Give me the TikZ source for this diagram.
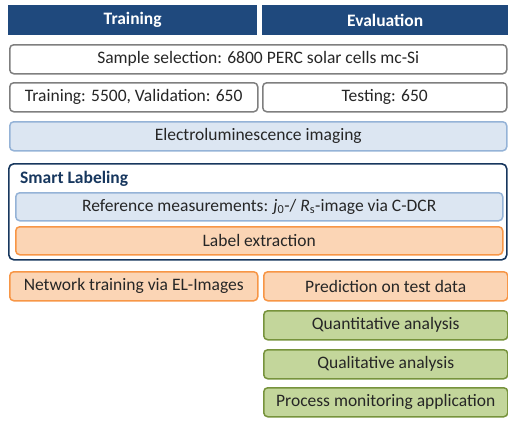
\documentclass[tikz,border=0pt]{standalone}
\usepackage{fontspec}
\setmainfont{Carlito}
\definecolor{hdr}{HTML}{1F497D}
\definecolor{navy}{HTML}{17375E}
\definecolor{grayb}{HTML}{7F7F7F}
\definecolor{bluef}{HTML}{DCE6F2}
\definecolor{blueb}{HTML}{95B3D7}
\definecolor{orf}{HTML}{FBD5B5}
\definecolor{orb}{HTML}{F79646}
\definecolor{grf}{HTML}{C3D69B}
\definecolor{grb}{HTML}{77933C}
\tikzset{
  txt/.style={font=\fontsize{17.5}{20}\selectfont},
  box/.style={rounded corners=4pt, line width=1.5pt, inner sep=0pt, txt, text=black!85},
  hdrbox/.style={fill=hdr, draw=none, text=white, font=\fontsize{17.5}{20}\selectfont\bfseries},
  whitebox/.style={box, draw=grayb, fill=white},
  bluebox/.style={box, draw=blueb, fill=bluef},
  orbox/.style={box, draw=orb, fill=orf},
  grbox/.style={box, draw=grb, fill=grf},
}
\begin{document}
\begin{tikzpicture}[x=1pt,y=1pt]
\useasboundingbox (0,0) rectangle (508,-421);
% headers
\node[hdrbox, minimum width=249pt, minimum height=30pt, anchor=north west] (train) at (8,-5) {Training};
\node[hdrbox, minimum width=246pt, minimum height=30pt, anchor=north west] (eval) at (262,-5) {Evaluation};
% sample selection
\node[whitebox, minimum width=497pt, minimum height=29pt, anchor=north west] (sample) at (9,-44) {Sample selection: 6800 PERC solar cells mc-Si};
\node[whitebox, minimum width=248pt, minimum height=29pt, anchor=north west] (trainset) at (9,-82) {Training: 5500, Validation: 650};
\node[whitebox, minimum width=244pt, minimum height=29pt, anchor=north west] (testset) at (262,-82) {Testing: 650};
\node[bluebox, minimum width=497pt, minimum height=29pt, anchor=north west] (el) at (9,-121) {Electroluminescence imaging};
% smart labeling
\node[draw=navy, line width=1.6pt, rounded corners=5pt, minimum width=498pt, minimum height=96pt, anchor=north west, inner sep=0pt] (smart) at (8,-163) {};
\node[anchor=west, text=navy, font=\fontsize{17.5}{20}\selectfont\bfseries, inner sep=0pt] (smartlbl) at (20,-179) {Smart Labeling};
\node[bluebox, minimum width=487pt, minimum height=28pt, anchor=north west] (ref) at (15,-192) {Reference measurements: \textit{j}\textsubscript{0}-/ \textit{R}\textsubscript{s}-image via C-DCR};
\node[orbox, minimum width=487pt, minimum height=28pt, anchor=north west] (label) at (15,-226) {Label extraction};
% bottom
\node[orbox, minimum width=248pt, minimum height=29pt, anchor=north west] (net) at (9,-271) {Network training via EL-Images};
\node[orbox, minimum width=244pt, minimum height=29pt, anchor=north west] (pred) at (263,-271) {Prediction on test data};
\node[grbox, minimum width=244pt, minimum height=29pt, anchor=north west] (quant) at (263,-310) {Quantitative analysis};
\node[grbox, minimum width=244pt, minimum height=29pt, anchor=north west] (qual) at (263,-349) {Qualitative analysis};
\node[grbox, minimum width=244pt, minimum height=29pt, anchor=north west] (proc) at (263,-387) {Process monitoring application};
\end{tikzpicture}
\end{document}
